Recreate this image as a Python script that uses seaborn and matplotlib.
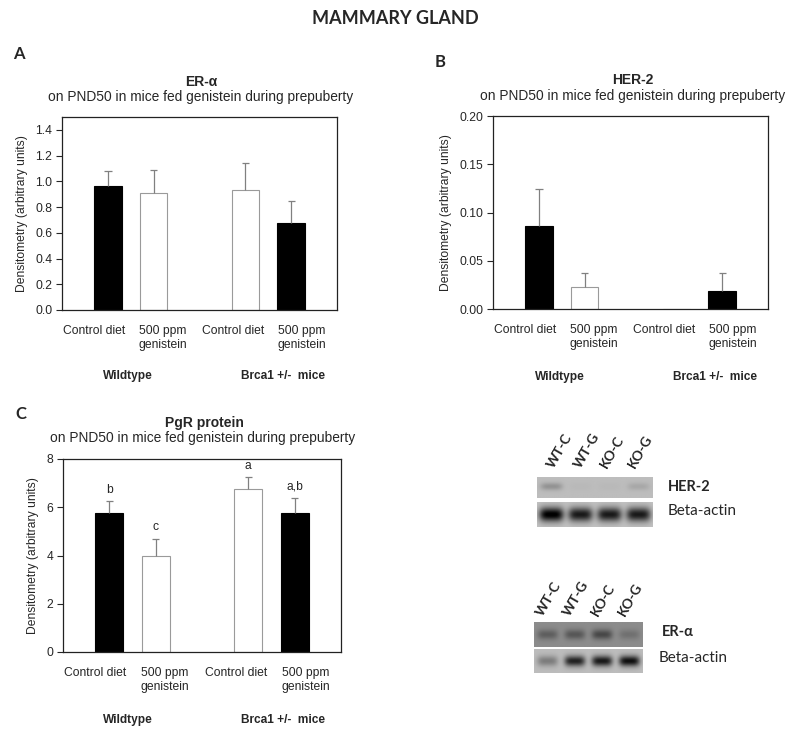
import numpy as np
import pandas as pd
import matplotlib
matplotlib.use("Agg")
import matplotlib.pyplot as plt
import seaborn as sns

sns.set_style("white")
plt.rcParams['font.family'] = ['Liberation Sans', 'DejaVu Sans']

# ---------------- data ----------------
categories = ["WT-C", "WT-G", "KO-C", "KO-G"]
order = ["WT-C", "WT-G", "gap", "KO-C", "KO-G"]
tick_labels = ["Control diet", "500 ppm\ngenistein", "Control diet", "500 ppm\ngenistein"]
bar_colors = {"WT-C": "black", "WT-G": "white", "KO-C": "white", "KO-G": "black"}

era_mean = [0.965, 0.91, 0.935, 0.675]
era_top = [1.08, 1.09, 1.145, 0.845]

her2_mean = [0.086, 0.023, 0.0, 0.019]
her2_top = [0.124, 0.037, 0.0, 0.037]

pgr_mean = [5.75, 4.0, 6.75, 5.75]
pgr_top = [6.25, 4.7, 7.25, 6.4]
pgr_letters = ["b", "c", "a", "a,b"]

group_labels = ["Wildtype", "Brca1 +/-  mice"]

# blot band intensities (lanes WT-C, WT-G, KO-C, KO-G)
lanes = ["WT-C", "WT-G", "KO-C", "KO-G"]
her2_bands = [0.30, 0.03, 0.03, 0.15]
actin1_bands = [1.0, 0.85, 0.85, 0.85]
era_bands = [0.30, 0.35, 0.45, 0.18]
actin2_bands = [0.35, 0.85, 0.9, 0.95]

W, H = 798, 739
fig = plt.figure(figsize=(W / 100, H / 100), dpi=100)


def rect(l, t, r, b):
    return [l / W, 1 - b / H, (r - l) / W, (b - t) / H]


def ftext(px, py, s, **kw):
    fig.text(px / W, 1 - py / H, s, **kw)


FS = 8.7
# label placement offsets (Excel-style text boxes sit off the bar centres)
label_pos = [-0.3, 1.2, 2.74, 4.24]


def bar_panel(pos, means, tops, ylim, yticks, yfmt, letters=None):
    ax = fig.add_axes(rect(*pos))
    df = pd.DataFrame({"group": categories, "value": means})
    sns.barplot(data=df, x="group", y="value", order=order, hue="group",
                palette=bar_colors, width=0.6, legend=False, ax=ax,
                saturation=1)
    xs = [order.index(c) for c in categories]
    for patch in ax.patches:
        fc = patch.get_facecolor()
        if fc[0] > 0.5:
            patch.set_edgecolor("#9a9a9a")
        else:
            patch.set_edgecolor("black")
        patch.set_linewidth(0.8)
    for x, m, t in zip(xs, means, tops):
        if t > m:
            ax.vlines(x, m, t, color="#808080", lw=0.9, zorder=3)
            ax.hlines(t, x - 0.08, x + 0.08, color="#808080", lw=0.9, zorder=3)
    if letters:
        for x, t, s in zip(xs, tops, letters):
            ax.annotate(s, (x, t), xytext=(0, 4), textcoords="offset points",
                        ha="center", va="bottom", fontsize=FS)
    ax.set_xlim(-1, 5)
    ax.set_ylim(*ylim)
    ax.set_yticks(yticks)
    ax.set_yticklabels([yfmt.format(v) for v in yticks], fontsize=FS)
    ax.set_xticks(label_pos)
    ax.set_xticklabels(tick_labels, fontsize=FS)
    ax.tick_params(axis="x", length=0, pad=11)
    ax.tick_params(axis="y", length=4, width=0.8, direction="out", left=True, pad=3)
    ax.set_xlabel("")
    ax.set_ylabel("Densitometry (arbitrary units)", fontsize=8.7, labelpad=5)
    for sp in ax.spines.values():
        sp.set_color("#222222")
        sp.set_linewidth(0.9)
    return ax


axA = bar_panel((62, 117, 337, 310), era_mean, era_top, (0, 1.5),
                [0, 0.2, 0.4, 0.6, 0.8, 1.0, 1.2, 1.4], "{:.1f}")
axB = bar_panel((493, 116, 768, 309), her2_mean, her2_top, (0, 0.2),
                [0, 0.05, 0.10, 0.15, 0.20], "{:.2f}")
axC = bar_panel((63, 459, 341, 652), pgr_mean, pgr_top, (0, 8),
                [0, 2, 4, 6, 8], "{:.0f}", letters=pgr_letters)

# titles
ftext(395, 19, "MAMMARY GLAND", family=["Lato", "DejaVu Sans"], fontweight="bold",
      fontsize=13, ha="center", va="center")
for px, py, s in [(19, 54, "A"), (440, 62, "B"), (21, 414, "C")]:
    ftext(px, py, s, family=["Lato", "DejaVu Sans"], fontweight="bold",
          fontsize=12, ha="center", va="center")

SUB = "on PND50 in mice fed genistein during prepuberty"
ftext(201, 82, "ER-α", fontweight="bold", fontsize=10, ha="center", va="center")
ftext(201, 97, SUB, fontsize=9.9, ha="center", va="center")
ftext(633, 80, "HER-2", fontweight="bold", fontsize=10, ha="center", va="center")
ftext(633, 96, SUB, fontsize=9.9, ha="center", va="center")
ftext(204, 423, "PgR protein", fontweight="bold", fontsize=10, ha="center", va="center")
ftext(203, 438, SUB, fontsize=9.9, ha="center", va="center")

# group labels
for (lx, rx, gy) in [(128, 283, 376), (560, 715, 377), (128, 283, 720)]:
    ftext(lx, gy, group_labels[0], fontweight="bold", fontsize=8.6, ha="center", va="center")
    ftext(rx, gy, group_labels[1], fontweight="bold", fontsize=8.6, ha="center", va="center")


# ---------------- blots ----------------
def blot(pos, bands, bg, darkness, bw=0.38, bh=0.22, cy=0.5):
    ax = fig.add_axes(rect(*pos))
    ny, nx = 60, 240
    yy, xx = np.mgrid[0:ny, 0:nx]
    u = (xx + 0.5) / nx * 4
    v = (yy + 0.5) / ny
    img = np.full((ny, nx), bg, dtype=float)
    for i, b in enumerate(bands):
        g = np.exp(-((u - (i + 0.5)) / bw) ** 4 - ((v - cy) / bh) ** 2)
        img -= darkness * b * g
    img = np.clip(img, 0, 1)
    ax.imshow(img, cmap="gray", vmin=0, vmax=1, aspect="auto",
              interpolation="bilinear")
    ax.set_axis_off()
    return ax


blot((537, 477, 653, 498), her2_bands, 0.74, 0.55, bh=0.18, cy=0.45)
blot((537, 502, 653, 527), actin1_bands, 0.76, 0.78, bh=0.28, bw=0.42)
blot((534, 622, 643, 647), era_bands, 0.55, 0.6, bh=0.2)
blot((534, 649, 643, 673), actin2_bands, 0.74, 0.72, bh=0.22)

BF = ["Lato", "DejaVu Sans"]
ftext(668, 487, "HER-2", family=BF, fontweight="bold", fontsize=10.5, ha="left", va="center")
ftext(668, 511, "Beta-actin", family=BF, fontsize=11, ha="left", va="center")
ftext(662, 632, "ER-α", family=BF, fontweight="bold", fontsize=10.5, ha="left", va="center")
ftext(659, 658, "Beta-actin", family=BF, fontsize=11, ha="left", va="center")

for xs0, ybase in [([556, 583, 609, 637], 470), ([545, 572, 600, 627], 618)]:
    for x0, s in zip(xs0, lanes):
        ftext(x0, ybase, s, family=BF, fontweight="bold", fontsize=10,
              rotation=60, ha="left", va="bottom", rotation_mode="anchor")

fig.savefig("out.png", dpi=100)
